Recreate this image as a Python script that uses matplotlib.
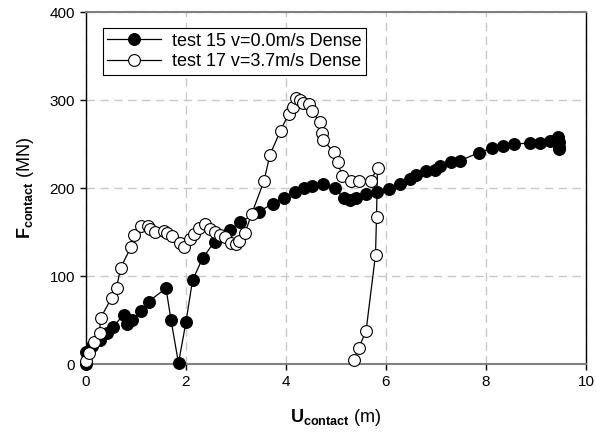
import matplotlib
matplotlib.use("Agg")
import matplotlib.pyplot as plt

plt.rcParams['font.family'] = ['Liberation Sans', 'DejaVu Sans']
plt.rcParams['mathtext.fontset'] = 'custom'
plt.rcParams['mathtext.rm'] = 'Liberation Sans'
plt.rcParams['mathtext.bf'] = 'Liberation Sans:bold'

label15 = "test 15 v=0.0m/s Dense"
label17 = "test 17 v=3.7m/s Dense"

u15 = [0.0, 0.0, 0.11, 0.28, 0.41, 0.54, 0.75, 0.81, 0.91, 1.10, 1.25, 1.60, 1.70, 1.85,
       2.0, 2.13, 2.33, 2.57, 2.88, 3.08, 3.45, 3.73, 3.95, 4.18, 4.36, 4.52, 4.73, 4.97,
       5.15, 5.27, 5.40, 5.60, 5.81, 6.05, 6.28, 6.48, 6.60, 6.80, 6.97, 7.08, 7.30, 7.48,
       7.85, 8.11, 8.33, 8.55, 8.87, 9.08, 9.28, 9.40, 9.43, 9.45, 9.46, 9.46]
f15 = [0, 14, 21, 27, 35, 42, 56, 46, 50, 60, 71, 86, 50, 1,
       48, 95, 120, 139, 152, 161, 173, 182, 189, 195, 200, 202, 205, 200,
       189, 186, 189, 193, 195, 199, 205, 210, 215, 219, 221, 225, 229, 231,
       240, 245, 248, 250, 251, 251, 253, 255, 258, 252, 247, 244]

u17 = [0.0, 0.05, 0.16, 0.27, 0.29, 0.51, 0.61, 0.69, 0.90, 0.96, 1.10, 1.23, 1.27, 1.37,
       1.55, 1.61, 1.71, 1.87, 1.96, 2.08, 2.16, 2.25, 2.37, 2.47, 2.57, 2.68, 2.78, 2.90,
       2.99, 3.05, 3.18, 3.31, 3.56, 3.68, 3.89, 4.05, 4.14, 4.20, 4.27, 4.34, 4.46, 4.52,
       4.67, 4.71, 4.74, 4.95, 5.03, 5.12, 5.29, 5.46, 5.69, 5.83, 5.81, 5.79, 5.60, 5.45,
       5.35]
f17 = [3, 12, 25, 35, 52, 75, 86, 109, 133, 147, 157, 157, 153, 150,
       151, 149, 146, 137, 133, 142, 148, 155, 159, 153, 150, 147, 144, 138,
       136, 140, 149, 170, 208, 238, 265, 284, 292, 302, 300, 297, 295, 288,
       275, 263, 255, 241, 230, 214, 208, 208, 208, 223, 167, 124, 37, 18,
       4]

xticks = [0, 2, 4, 6, 8, 10]
yticks = [0, 100, 200, 300, 400]

fig = plt.figure(figsize=(5.96, 4.34), dpi=100)
ax = fig.add_axes([86/596, 70/434, 500/596, 352/434])

ax.plot(u15, f15, color='black', lw=0.9, marker='o', ms=8.5, mfc='black', mec='black',
        mew=0.8, label=label15, zorder=3, clip_on=False)
ax.plot(u17, f17, color='black', lw=0.9, marker='o', ms=8.5, mfc='white', mec='black',
        mew=0.8, label=label17, zorder=4, clip_on=False)

ax.set_xlim(0, 10)
ax.set_ylim(0, 400)
ax.set_xticks(xticks)
ax.set_yticks(yticks)
ax.tick_params(direction='out', length=4, width=1, labelsize=11, color='black', pad=4)
ax.grid(True, color='#c8c8c8', linestyle=(0, (6, 4)), linewidth=1, zorder=0)
ax.set_axisbelow(True)

for s in ['top', 'bottom']:
    ax.spines[s].set_color('#808080')
    ax.spines[s].set_linewidth(1.5)
for s in ['left', 'right']:
    ax.spines[s].set_color('black')
    ax.spines[s].set_linewidth(1.0)

ax.set_xlabel(r"$\mathbf{U_{contact}}$ (m)", fontsize=13, labelpad=13)
ax.set_ylabel(r"$\mathbf{F_{contact}}$ (MN)", fontsize=13, labelpad=10)

leg = ax.legend(loc='upper left', bbox_to_anchor=(0.015, 0.98), fontsize=13,
                frameon=True, fancybox=False, edgecolor='black', framealpha=1,
                handlelength=3.0, borderpad=0.25, labelspacing=0.2, handletextpad=0.6)
leg.get_frame().set_linewidth(0.8)

fig.savefig("out.png", dpi=100)
